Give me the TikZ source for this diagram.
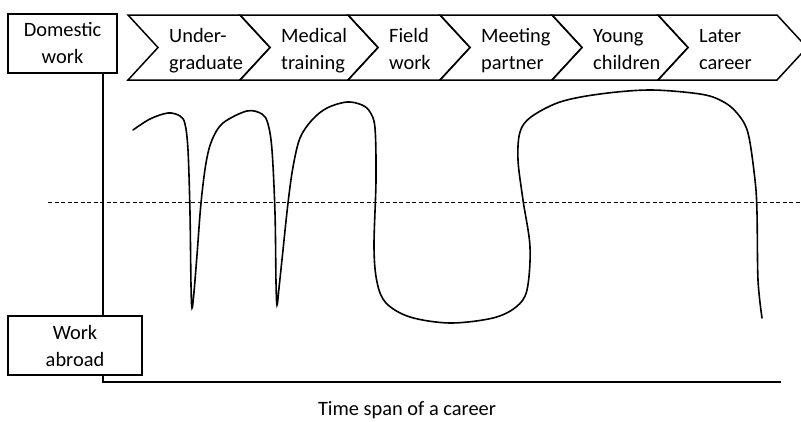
\documentclass[tikz,border=0pt]{standalone}
\usepackage{fontspec}
\setmainfont{Carlito}

\begin{document}
\begin{tikzpicture}[x=1pt,y=-1pt,
        lbl/.style={font=\fontsize{20.4}{27}\selectfont},
        box/.style={draw,line width=1.5pt,lbl,align=center,inner sep=0pt},
        chev/.style={line width=1.5pt,line join=miter},
        rail/.style={line width=1.4pt}]
        \useasboundingbox (0,0) rectangle (801,421);
        % \draw (0,0) node {};
        \node[box,minimum width=109pt,minimum height=59pt](dom) at (62.5,43.5) {Domestic\\work};
        \node[box,minimum width=134pt,minimum height=59pt](abr) at (75,345.5) {Work\\abroad};
        \coordinate (axis) at (103,0);
        \coordinate (tend) at (781,382);
        \foreach \xa/\xb/\ta/\tb [count=\i] in {128/240/Under-/graduate,240/348/Medical/training,348/440/Field/work,440/552/Meeting/partner,552/658/Young/children,658/777/Later/career}
        {
            \draw[chev] (\xa,15) -- (\xb,15) -- (\xb+30,47.5) -- (\xb,80) -- (\xa,80) -- (\xa+30,47.5) -- cycle;
            \node[lbl,align=left,anchor=west,inner sep=0pt](stage\i) at (\xa+41,50.5) {\ta\vphantom{Ud}\\\tb\vphantom{g}};
        }
        \draw[rail] (dom.south -| axis) -- (abr.north -| axis);
        \draw[rail] (abr.south -| axis) |- (tend);
        \node[lbl](span) at (407,410) {Time span of a career};
        \draw[line width=0.7pt,dash pattern=on 4pt off 2.5pt] (48,202.5) -- (801,202.5);
        \draw[line width=1.6pt,line cap=round] plot[smooth,tension=0.55] coordinates {
            (133,130) (150,119) (168,113) (180,116) (185,124) (188,150) (190,213) (191,285) (192,308) (194,292)
            (197,255) (201,203) (206,163) (212,140) (223,123) (247,111) (262,114) (268,124) (272,150)
            (275,213) (276,282) (277,305) (279,288) (283,250) (288,203) (293,167) (300,138) (312,120)
            (327,108) (347,102) (362,105) (370,112) (375,128) (376,180) (374,247) (377,282) (386,303)
            (410,317) (450,323) (493,318) (516,307) (527,290) (530,247) (523,200) (518,160) (520,132)
            (531,117) (560,102) (600,94) (650,90) (700,94) (722,101) (737,113) (748,133) (755,180)
            (757,213) (758,280) (762,318)};
\end{tikzpicture}
\end{document}
